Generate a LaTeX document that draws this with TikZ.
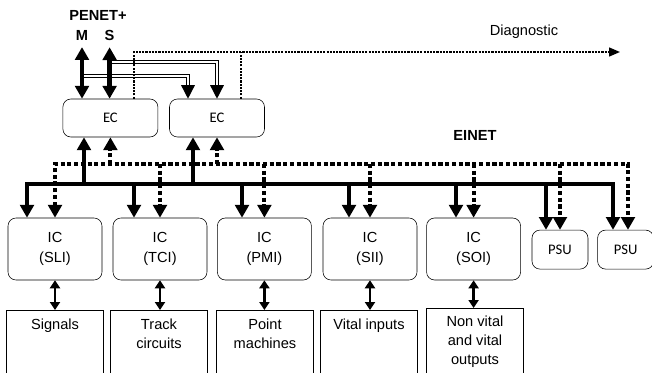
\documentclass[tikz,border=0pt]{standalone}
\usepackage{fontspec}
\setmainfont{Liberation Sans}
\newfontfamily\calfont{Carlito}
\usetikzlibrary{arrows.meta, positioning, calc}

\begin{document}
\begin{tikzpicture}[
    font=\fontsize{10.4}{14.5}\selectfont,
    ctrl/.style={rectangle, draw, rounded corners=0.2cm, minimum width=2.35cm, minimum height=1.55cm, align=center},
    ecbox/.style={rectangle, draw, rounded corners=0.2cm, minimum width=2.375cm, minimum height=0.95cm, font=\fontsize{10.4}{12}\calfont},
    psubox/.style={ecbox, minimum width=1.4cm, minimum height=0.975cm},
    dev/.style={rectangle, draw, anchor=north, minimum width=2.425cm, minimum height=1.8cm},
    devtext/.style={anchor=north, align=center, yshift=-3pt, font=\fontsize{10.4}{13.5}\selectfont},
    lbl/.style={font=\fontsize{10.4}{12}\selectfont\bfseries},
    bus/.style={line width=3.2pt, line join=miter, >={Triangle[width=0.34cm,length=0.32cm]}},
    dbus/.style={bus, line width=2.8pt, dash pattern=on 3pt off 1.8pt},
    pair/.style={double, line width=1pt, double distance=1.3pt, >={Triangle[width=0.34cm,length=0.34cm]}},
    diag/.style={line width=1.1pt, dash pattern=on 1.5pt off 0.8pt, >={Triangle[width=0.22cm,length=0.27cm]}},
    io/.style={<->, line width=1.8pt, >={Triangle[width=0.25cm,length=0.2cm]}}
]
\useasboundingbox (0,0) rectangle (16.3,-9.325);

% Labels
\node[lbl] (penet) at (2.45,-0.375) {PENET+};
\node[lbl] (mlbl) at (2.05,-0.875) {M};
\node[lbl] (slbl) at (2.74,-0.875) {S};
\node (diaglbl) at (13.1,-0.8) {Diagnostic};
\node[lbl] (einet) at (11.875,-3.375) {EINET};

% Equipment controllers
\node[ecbox] (ec1) at (2.76,-2.95) {EC};
\node[ecbox] (ec2) at (5.425,-2.95) {EC};

% Interface controllers and power supplies
\node[ctrl] (sli) at (1.375,-6.225) {IC\\(SLI)};
\node[ctrl] (tci) at (4.0,-6.225) {IC\\(TCI)};
\node[ctrl] (pmi) at (6.61,-6.225) {IC\\(PMI)};
\node[ctrl] (sii) at (9.25,-6.225) {IC\\(SII)};
\node[ctrl] (soi) at (11.84,-6.225) {IC\\(SOI)};
\node[psubox] (psua) at (14.0,-6.24) {PSU};
\node[psubox] (psub) at (15.64,-6.24) {PSU};

% Field equipment
\node[dev, label={[devtext]north:Signals}] (sig) at (1.375,-7.75) {};
\node[dev, label={[devtext]north:{Track\\circuits}}] (trk) at (3.975,-7.75) {};
\node[dev, label={[devtext]north:{Point\\machines}}] (pnt) at (6.625,-7.75) {};
\node[dev, label={[devtext]north:{Vital inputs}}] (vin) at (9.225,-7.75) {};
\node[dev, label={[devtext, yshift=1pt]north:{Non vital\\and vital\\outputs}}] (vout) at (11.875,-7.7) {};

% Bus and tap points
\coordinate (busS) at (8,-4.6);
\coordinate (busD) at (8,-4.1);
\coordinate (diagend) at (15.5,-1.3);
\coordinate (mtap) at (2.05,-1.9);
\coordinate (stap) at (2.74,-1.55);

% PENET+ links
\draw[pair, ->] (mtap) -| ([xshift=-0.725cm]ec2.north);
\draw[pair, ->] (stap) -| (ec2.north);
\draw[bus, <->] ([yshift=-1.5pt]mlbl.south) -- (mlbl.south |- ec1.north);
\draw[bus, <->] ([yshift=-1.5pt]slbl.south) -- (slbl.south |- ec1.north);

% Diagnostic line
\draw[diag, ->] ([xshift=0.59cm]ec1.north) |- (diagend);
\draw[diag] ([xshift=0.6cm]ec2.north) -- ([xshift=0.6cm]ec2.north |- diagend);

% EINET dashed bus
\draw[dbus, <->] (sli.north) |- (busD) -| ([xshift=0.06cm]psub.north);
\draw[dbus, ->] (ec1.south |- busD) -- (ec1.south);
\draw[dbus, ->] (ec2.south |- busD) -- (ec2.south);
\draw[dbus, ->] (tci.north |- busD) -- (tci.north);
\draw[dbus, ->] (pmi.north |- busD) -- (pmi.north);
\draw[dbus, ->] (sii.north |- busD) -- (sii.north);
\draw[dbus, ->] (soi.north |- busD) -- (soi.north);
\draw[dbus, ->] (psua.north |- busD) -- (psua.north);

% EINET solid bus
\draw[bus, <->] ([xshift=-0.7cm]sli.north) |- (busS) -| ([xshift=-0.315cm]psub.north);
\draw[bus, ->] ([xshift=-0.66cm]ec1.south |- busS) -- ([xshift=-0.66cm]ec1.south);
\draw[bus, ->] ([xshift=-0.6cm]ec2.south |- busS) -- ([xshift=-0.6cm]ec2.south);
\draw[bus, ->] ([xshift=-0.65cm]tci.north |- busS) -- ([xshift=-0.65cm]tci.north);
\draw[bus, ->] ([xshift=-0.56cm]pmi.north |- busS) -- ([xshift=-0.56cm]pmi.north);
\draw[bus, ->] ([xshift=-0.525cm]sii.north |- busS) -- ([xshift=-0.525cm]sii.north);
\draw[bus, ->] ([xshift=-0.44cm]soi.north |- busS) -- ([xshift=-0.44cm]soi.north);
\draw[bus, ->] ([xshift=-0.35cm]psua.north |- busS) -- ([xshift=-0.35cm]psua.north);

% Controllers to field equipment
\draw[io] (sli.south) -- (sig.north);
\draw[io] (tci.south) -- (tci.south |- trk.north);
\draw[io] (pmi.south) -- (pmi.south |- pnt.north);
\draw[io] (sii.south) -- (sii.south |- vin.north);
\draw[io] (soi.south) -- (soi.south |- vout.north);

\end{tikzpicture}
\end{document}
